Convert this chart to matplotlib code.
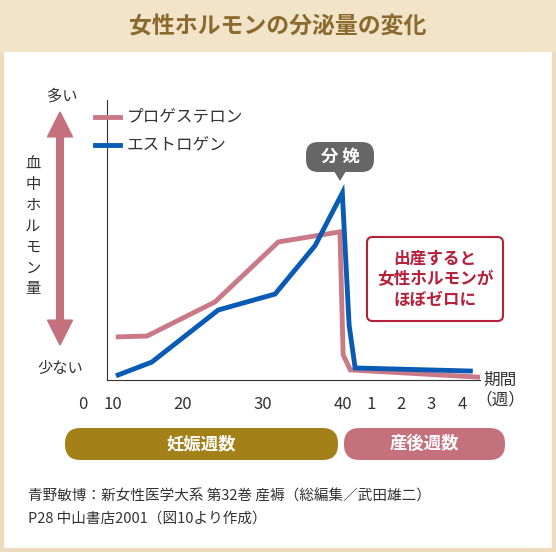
import matplotlib
matplotlib.use("Agg")
import matplotlib.pyplot as plt
from matplotlib.patches import FancyBboxPatch, FancyArrow, Rectangle, Polygon

plt.rcParams['font.family'] = ['Noto Sans CJK JP', 'DejaVu Sans']

# data (x: pregnancy weeks; postpartum weeks mapped as 40 + 3.75*week)
prog_x = [11.9, 15.5, 24.0, 31.9, 39.6, 40.0, 40.9, 57.1]
prog_y = [15.4, 15.7, 27.9, 49.3, 52.9, 9.0, 3.6, 1.0]
est_x = [11.9, 16.1, 24.4, 31.5, 36.5, 39.9, 40.75, 41.5, 55.9]
est_y = [1.8, 6.4, 25.0, 30.7, 48.0, 66.8, 19.6, 4.3, 3.2]
tick_pos = [7.5, 11.25, 20, 30, 40, 43.5, 47.25, 51, 54.9]
tick_labels = ["0", "10", "20", "30", "40", "1", "2", "3", "4"]

W, H = 556, 552
fig = plt.figure(figsize=(W/100, H/100), dpi=100)
fig.patch.set_facecolor("white")
def fx(px): return px / W
def fy(py): return 1 - py / H

beige = "#eddcbd"
fig.patches.append(Rectangle((0, 0), 1, 1, transform=fig.transFigure, fill=False, ec=beige, lw=6))
fig.patches.append(Rectangle((0, fy(52)), 1, 52/H, transform=fig.transFigure, fc="#f1e4c9", ec="none"))
fig.text(0.5, fy(27), "女性ホルモンの分泌量の変化", ha="center", va="center", fontsize=16.5, color="#8b6a2e", fontweight="bold")

ax = fig.add_axes([fx(107), fy(380), fx(480)-fx(107), fy(100)-fy(380)])
ax.set_xlim(10.5, 57.1); ax.set_ylim(0, 100)
pink = "#c97a86"; blue = "#0a5bb5"
ax.plot(prog_x, prog_y, color=pink, lw=3.5, solid_joinstyle="miter")
ax.plot(est_x, est_y, color=blue, lw=3.5, solid_joinstyle="miter")
for s in ["top", "right"]: ax.spines[s].set_visible(False)
ax.spines["left"].set_color("#333"); ax.spines["bottom"].set_color("#333")
ax.set_yticks([])
ax.set_xticks([])
for p, l in zip(tick_pos, tick_labels):
    ax.text(p, -8.8, l, ha="center", va="center", fontsize=12, color="#333", clip_on=False)
ax.set_facecolor("none")

# legend
for yy, c, t in [(117, pink, "プロゲステロン"), (145, blue, "エストロゲン")]:
    fig.lines.append(plt.Line2D([fx(95), fx(120)], [fy(yy), fy(yy)], transform=fig.transFigure, color=c, lw=3.5))
    fig.text(fx(127), fy(yy), t, va="center", fontsize=12, color="#333")

# axis labels
fig.text(fx(62), fy(96), "多い", ha="center", va="center", fontsize=11, color="#333")
fig.text(fx(60), fy(368), "少ない", ha="center", va="center", fontsize=11, color="#333")
fig.text(fx(33), fy(226), "血\n中\nホ\nル\nモ\nン\n量", ha="center", va="center", fontsize=11, color="#333", linespacing=1.3)
arrow_pink = "#c4707d"
fig.patches.append(FancyArrow(fx(60), fy(230), 0, (fy(112)-fy(230)), width=0.012, head_width=0.045, head_length=0.045, transform=fig.transFigure, color=arrow_pink, length_includes_head=True))
fig.patches.append(FancyArrow(fx(60), fy(230), 0, (fy(345)-fy(230)), width=0.012, head_width=0.045, head_length=0.045, transform=fig.transFigure, color=arrow_pink, length_includes_head=True))

fig.text(fx(500), fy(390), "期間\n（週）", ha="center", va="center", fontsize=12, color="#333", linespacing=1.2)

# callout 分娩
gray = "#666666"
fig.patches.append(FancyBboxPatch((fx(306), fy(172)), fx(68), 30/H, boxstyle="round,pad=0,rounding_size=0.022", transform=fig.transFigure, fc=gray, ec="none"))
fig.patches.append(Polygon([(fx(334), fy(171)), (fx(346), fy(171)), (fx(340), fy(181))], closed=True, transform=fig.transFigure, fc=gray, ec="none"))
fig.text(fx(340), fy(157), "分 娩", ha="center", va="center", fontsize=12.5, color="white", fontweight="bold")

# red note box
red = "#b5213a"
fig.patches.append(FancyBboxPatch((fx(367), fy(321)), fx(136), 84/H, boxstyle="round,pad=0,rounding_size=0.01", transform=fig.transFigure, fc="white", ec=red, lw=1.5))
fig.text(fx(435), fy(279), "出産すると\n女性ホルモンが\nほぼゼロに", ha="center", va="center", fontsize=12, color=red, fontweight="bold", linespacing=1.2)

# bottom bars
fig.patches.append(FancyBboxPatch((fx(65), fy(460)), fx(273), 32/H, boxstyle="round,pad=0,rounding_size=0.028", transform=fig.transFigure, fc="#a38018", ec="none"))
fig.text(fx(201), fy(444), "妊娠週数", ha="center", va="center", fontsize=12.5, color="white", fontweight="bold")
fig.patches.append(FancyBboxPatch((fx(344), fy(460)), fx(161), 32/H, boxstyle="round,pad=0,rounding_size=0.028", transform=fig.transFigure, fc="#c4707d", ec="none"))
fig.text(fx(424), fy(444), "産後週数", ha="center", va="center", fontsize=12.5, color="white", fontweight="bold")

fig.text(fx(28), fy(496), "青野敏博：新女性医学大系 第32巻 産褥（総編集／武田雄二）", va="center", fontsize=10.5, color="#333")
fig.text(fx(28), fy(519), "P28 中山書店2001（図10より作成）", va="center", fontsize=10.5, color="#333")

fig.savefig("out.png", dpi=100)
